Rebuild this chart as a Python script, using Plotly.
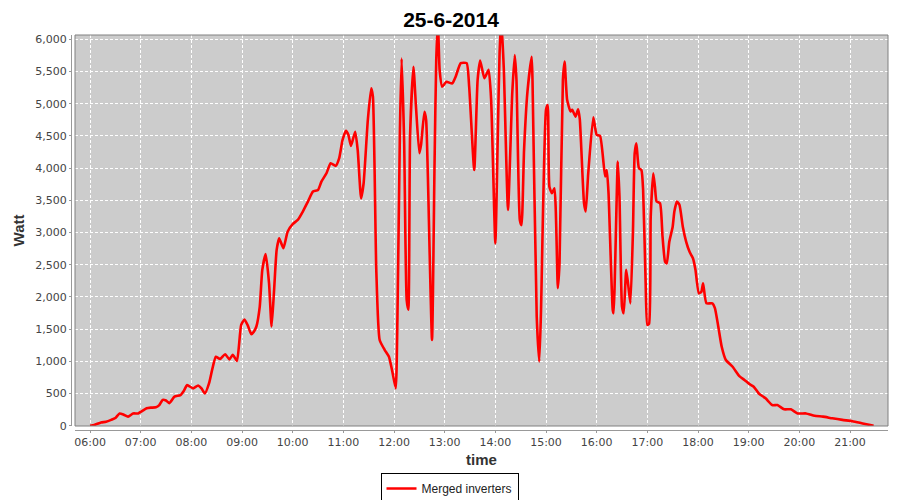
import plotly.graph_objects as go

DAY = "2014-06-25"
times = ["06:00","06:05","06:13","06:19","06:25","06:30","06:35","06:40","06:45","06:51","06:57",
         "07:02","07:07","07:12","07:18","07:22","07:26","07:30","07:34","07:40","07:47","07:51","07:55",
         "08:02","08:08","08:12","08:16","08:21","08:25","08:29","08:34","08:40","08:45","08:49","08:54","08:59",
         "09:03","09:07","09:11","09:14","09:17","09:21","09:24","09:28","09:32","09:35","09:38","09:41","09:44","09:49","09:54",
         "10:00","10:06","10:12","10:18","10:24","10:30","10:34","10:40","10:45","10:51","10:55","10:59",
         "11:03","11:06","11:09","11:14","11:17","11:21","11:24","11:29","11:33","11:35","11:39","11:43","11:49","11:54","11:58",
         "12:02","12:04","12:07","12:09","12:12","12:15","12:17","12:19","12:23","12:26","12:30","12:32","12:36","12:38","12:40",
         "12:45","12:48","12:50","12:52","12:54","12:57",
         "13:02","13:09","13:13","13:19","13:26","13:29","13:35","13:39","13:42","13:47","13:52","13:55",
         "14:00","14:03","14:05","14:07","14:10","14:15","14:20","14:23","14:25","14:29","14:31","14:34","14:38","14:43","14:44",
         "14:49","14:52","14:54",
         "15:00","15:02","15:04","15:07","15:10","15:14","15:16","15:20","15:22","15:25","15:29","15:31","15:35","15:38","15:40",
         "15:45","15:47","15:50","15:56",
         "16:00","16:04","16:10","16:12","16:14","16:19","16:20","16:25","16:27","16:30","16:32","16:35","16:38","16:40","16:43",
         "16:45","16:47","16:50","16:53","16:55","16:58",
         "17:00","17:02","17:04","17:07","17:09","17:11","17:15","17:18","17:21","17:23","17:26","17:30","17:32","17:35","17:38",
         "17:42","17:46","17:50","17:54","17:57",
         "18:01","18:04","18:06","18:10","18:17","18:20","18:24","18:28","18:33","18:41","18:49","18:55",
         "19:01","19:06","19:12","19:20","19:28","19:34","19:42","19:50","19:58",
         "20:08","20:18","20:28","20:39","20:51",
         "21:03","21:15","21:24","21:28"]
watts = [0,10,50,60,90,120,190,170,140,190,190,
         230,270,280,285,320,400,390,350,450,475,540,630,
         580,625,580,500,660,890,1070,1035,1110,1030,1100,1005,1565,
         1650,1550,1420,1460,1540,1850,2420,2665,2210,1540,2110,2730,2910,2755,3013,
         3130,3195,3325,3480,3635,3660,3790,3920,4075,4035,4150,4435,
         4580,4515,4345,4565,4280,3530,3765,4750,5240,5110,2420,1330,1175,1070,840,
         580,1640,4590,5700,4400,1950,1800,4490,5575,4955,4230,4360,4875,4750,3920,
         1330,4075,5680,6250,5525,5265,
         5340,5315,5420,5630,5630,5265,3970,5370,5670,5395,5525,5060,
         2830,4590,5780,6300,5550,3350,5160,5755,5370,3195,3115,4280,5185,5730,5370,
         1690,995,1745,
         4905,4980,3710,3610,3685,2135,2520,5370,5655,5060,4880,4905,4800,4915,4760,
         3455,3325,3920,4790,
         4515,4500,3870,3970,3620,1800,1745,4100,3555,1850,1745,2420,2110,1900,3040,
         4230,4385,4000,3970,3660,2210,
         1565,1580,3245,3920,3710,3480,3455,2935,2545,2520,2855,3090,3325,3480,3430,
         3090,2855,2700,2600,2420,
         2055,2080,2210,1900,1900,1825,1540,1230,1020,915,770,710,
         645,605,500,425,320,320,255,255,190,
         190,155,140,115,90,
         70,35,10,0]

title_text = "25-6-2014"
x_title = "time"
y_title = "Watt"
series_name = "Merged inverters"

x = [f"{DAY} {t}:00" for t in times]

# the page body has an 8px margin; figure is sized/positioned to compensate
OFF = 8
W, H = 900 - OFF, 500 - OFF
ML, MR, MT, MB = 71 - OFF, 12, 35 - OFF, 70
pw = W - ML - MR
ph = H - MT - MB
dx = 4 / pw
dy = 4 / ph

fig = go.Figure()
fig.add_trace(go.Scatter(x=x, y=watts, mode="lines", name=series_name,
                         line=dict(color="#ff0000", width=2.6, shape="spline", smoothing=0.5),
                         showlegend=True))

tick_font = dict(family="DejaVu Sans", size=11, color="#444444")
fig.update_layout(
    width=W, height=H,
    margin=dict(l=ML, r=MR, t=MT, b=MB, autoexpand=False),
    paper_bgcolor="white",
    plot_bgcolor="#cccccc",
    title=dict(text=title_text, x=(451 - OFF) / W, xanchor="center", xref="container",
               y=1 - 4 / H, yanchor="top", yref="container", pad=dict(t=0, b=0),
               font=dict(family="Liberation Sans", size=21, color="black", weight="bold")),
    xaxis=dict(domain=[dx, 1], anchor="free", position=0, automargin=False,
               type="date",
               range=[f"{DAY} 05:42:12", f"{DAY} 21:45:00"],
               tickformat="%H:%M", dtick=3600000, tick0=f"{DAY} 06:00:00",
               showgrid=True, gridcolor="white", griddash="3px,2px", gridwidth=1,
               showline=True, linecolor="#999999", linewidth=1,
               ticks="outside", ticklen=2, tickcolor="#999999",
               tickfont=tick_font,
               title=dict(text=x_title, font=dict(family="Liberation Sans", size=15, color="#333333", weight="bold"),
                          standoff=6),
               zeroline=False),
    yaxis=dict(domain=[dy, 1], anchor="free", position=0, automargin=False,
               range=[-5, 6067], dtick=500, tick0=0, tickformat=",d",
               showgrid=True, gridcolor="white", griddash="3px,2px", gridwidth=1,
               showline=True, linecolor="#999999", linewidth=1,
               ticks="outside", ticklen=2, tickcolor="#999999",
               tickfont=tick_font,
               title=dict(text=y_title, font=dict(family="Liberation Sans", size=15, color="#333333", weight="bold"),
                          standoff=6),
               zeroline=False),
    legend=dict(orientation="h", x=(449.5 - OFF - ML) / pw, xanchor="center",
                y=(430 - 473) / ph, yanchor="top",
                bordercolor="black", borderwidth=1, bgcolor="white",
                font=dict(family="Liberation Sans", size=12, color="#222222"),
                itemwidth=30),
    shapes=[dict(type="rect", xref="paper", yref="paper", x0=dx, x1=1, y0=dy, y1=1,
                 line=dict(color="#808080", width=1), fillcolor="rgba(0,0,0,0)", layer="above")],
)

fig.write_html("out.html")
